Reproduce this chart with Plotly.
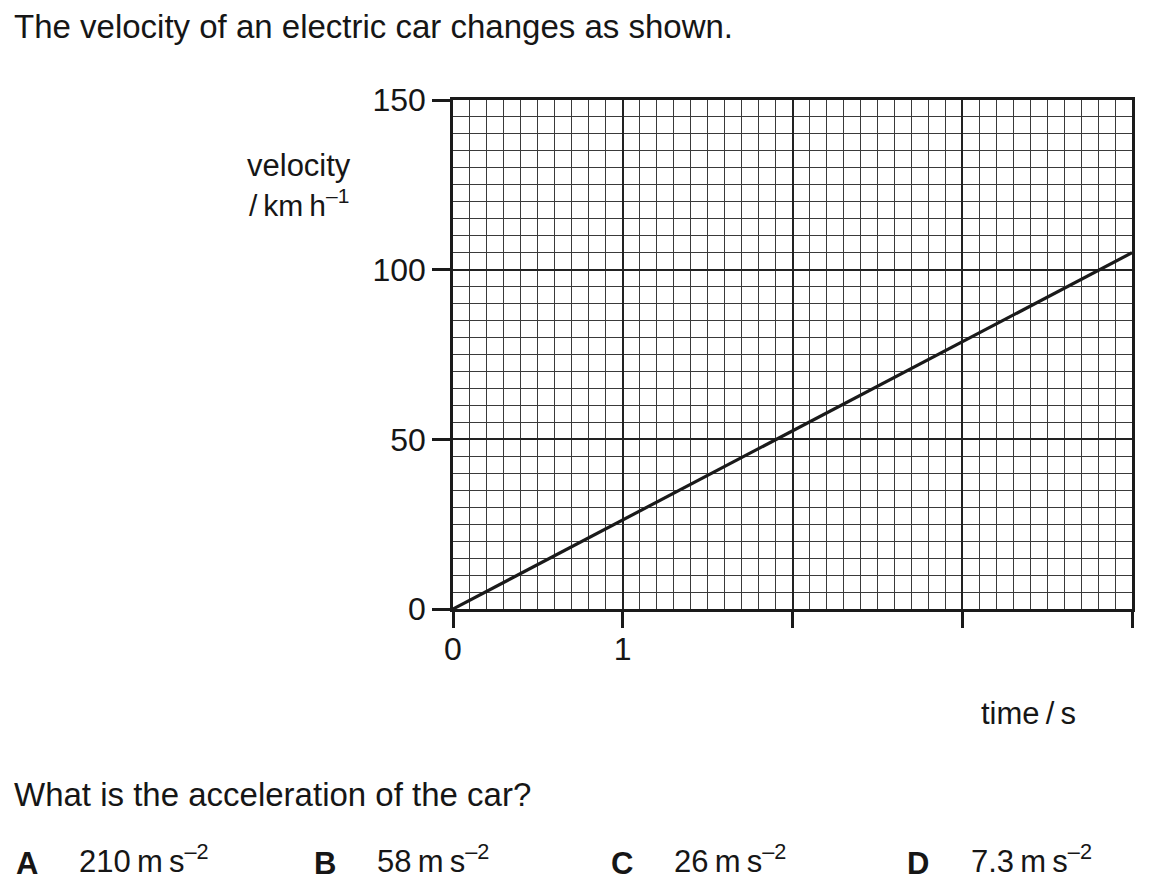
import plotly.graph_objects as go

# data
time_s = [0, 4]
velocity_kmh = [0, 105]

x_tickvals = [0, 1, 2, 3, 4]
x_ticktext = ["0", "1", "", "", ""]
y_tickvals = [0, 50, 100, 150]

options = ["A", "B", "C", "D"]
answers = ["210\u2009m\u2009s<sup>–2</sup>", "58\u2009m\u2009s<sup>–2</sup>",
           "26\u2009m\u2009s<sup>–2</sup>", "7.3\u2009m\u2009s<sup>–2</sup>"]

OFF = 8  # page body margin
W, H = 1171 - 2 * OFF, 889 - 2 * OFF
L, R, T, B = 453 - OFF, 1132 - OFF, 100 - OFF, 609 - OFF
FONT = "Liberation Sans, Arial, sans-serif"
INK = "#161616"


def px(x):
    return (x - OFF - L) / (R - L)


def py(y):
    return (B - (y - OFF)) / (B - T)


fig = go.Figure()
fig.add_trace(go.Scatter(x=time_s, y=velocity_kmh, mode="lines",
                         line=dict(color="#1a1a1a", width=3.2),
                         hoverinfo="skip", showlegend=False))

fig.update_xaxes(
    range=[0, 4], tickvals=x_tickvals, ticktext=x_ticktext,
    showgrid=True, gridcolor="#222", gridwidth=2,
    minor=dict(dtick=0.1, showgrid=True, gridcolor="#3a3a3a", gridwidth=1),
    showline=True, linecolor="#1a1a1a", linewidth=2.5, mirror=True,
    ticks="outside", ticklen=16, tickwidth=2.5, tickcolor="#1a1a1a",
    tickfont=dict(family=FONT, size=32, color=INK), zeroline=False,
    ticklabelstandoff=-6, fixedrange=True,
)
fig.update_yaxes(
    range=[0, 150], tickvals=y_tickvals,
    showgrid=True, gridcolor="#222", gridwidth=2,
    minor=dict(dtick=5, showgrid=True, gridcolor="#3a3a3a", gridwidth=1),
    showline=True, linecolor="#1a1a1a", linewidth=2.5, mirror=True,
    ticks="outside", ticklen=18, tickwidth=2.5, tickcolor="#1a1a1a",
    tickfont=dict(family=FONT, size=32, color=INK), zeroline=False,
    fixedrange=True,
)

notes = [
    dict(text="The velocity of an electric car changes as shown.", x=12, y=26, xanchor="left", size=33),
    dict(text="velocity", x=299, y=165, xanchor="center", size=31),
    dict(text="/\u2009km\u2009h<sup>–1</sup>", x=299, y=203, xanchor="center", size=30),
    dict(text="time\u2009/\u2009s", x=1028, y=713, xanchor="center", size=31),
    dict(text="What is the acceleration of the car?", x=12, y=794, xanchor="left", size=33),
]
opt_x = [14, 312, 609, 905]
ans_x = [77, 375, 672, 969]
for o, a, ox, ax in zip(options, answers, opt_x, ans_x):
    notes.append(dict(text="<b>" + o + "</b>", x=ox, y=863, xanchor="left", size=31))
    notes.append(dict(text=a, x=ax, y=859, xanchor="left", size=31))

for n in notes:
    fig.add_annotation(text=n["text"], x=px(n["x"]), y=py(n["y"]),
                       xref="paper", yref="paper", xanchor=n["xanchor"], yanchor="middle",
                       showarrow=False, font=dict(family=FONT, size=n["size"], color=INK))

fig.update_layout(
    width=W, height=H,
    margin=dict(l=L, r=W - R, t=T, b=H - B),
    paper_bgcolor="white", plot_bgcolor="white",
    showlegend=False,
)

fig.write_html("out.html")
